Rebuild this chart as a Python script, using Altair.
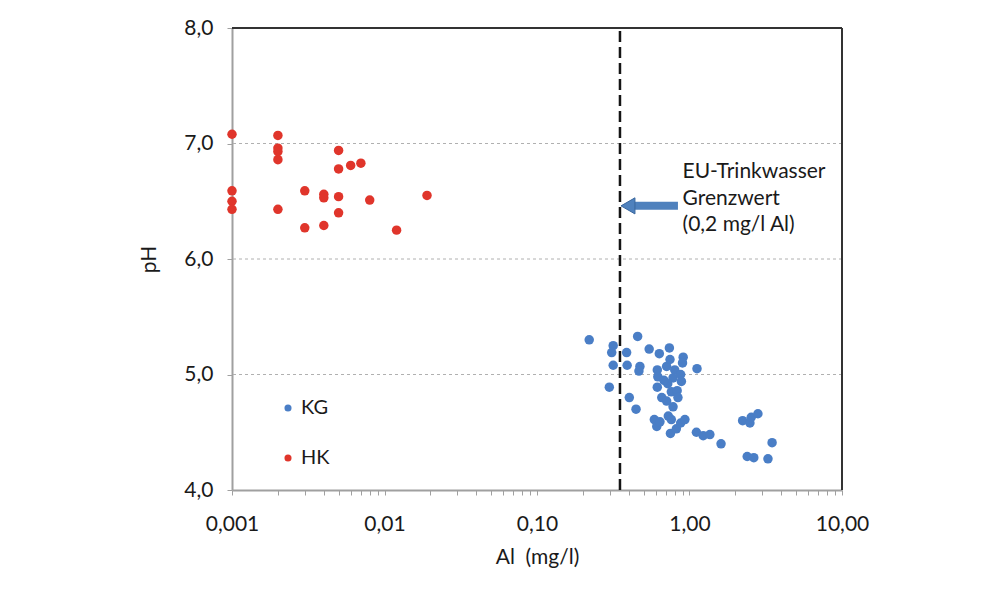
import altair as alt
import pandas as pd

# HK series (Al mg/l, pH)
hk_al = [0.001, 0.002, 0.002, 0.002, 0.002, 0.005, 0.005, 0.006, 0.007,
         0.001, 0.001, 0.001, 0.002, 0.003, 0.004, 0.004, 0.005, 0.005,
         0.008, 0.019, 0.003, 0.004, 0.012]
hk_ph = [7.08, 7.07, 6.96, 6.93, 6.86, 6.94, 6.78, 6.81, 6.83,
         6.59, 6.50, 6.43, 6.43, 6.59, 6.56, 6.53, 6.54, 6.40,
         6.51, 6.55, 6.27, 6.29, 6.25]

# KG series (Al mg/l, pH)
kg_al = [0.22, 0.457, 0.316, 0.309, 0.387, 0.544, 0.634, 0.738, 0.909, 0.90,
         0.316, 0.39, 0.473, 0.466, 1.12, 0.298, 0.403, 0.446, 0.615, 0.62,
         0.615, 0.708, 0.745, 0.80, 0.78, 0.875, 0.885, 0.76, 0.83, 0.658,
         0.708, 0.78, 0.588, 0.61, 0.64, 0.726, 0.76, 0.75, 0.82, 0.875,
         0.933, 1.11, 1.23, 1.36, 1.61, 2.23, 2.49, 2.54, 2.81, 3.48,
         2.39, 2.64, 3.27, 0.72, 0.68, 0.84]
kg_ph = [5.30, 5.33, 5.25, 5.19, 5.19, 5.22, 5.18, 5.23, 5.15, 5.10,
         5.08, 5.08, 5.07, 5.03, 5.05, 4.89, 4.80, 4.70, 5.04, 4.98,
         4.89, 5.07, 5.13, 5.04, 4.97, 5.00, 4.94, 4.85, 4.86, 4.80,
         4.77, 4.72, 4.61, 4.55, 4.59, 4.64, 4.61, 4.49, 4.53, 4.58,
         4.61, 4.50, 4.47, 4.48, 4.40, 4.60, 4.58, 4.63, 4.66, 4.41,
         4.29, 4.28, 4.27, 4.92, 4.95, 4.80]

groups = ["KG", "HK"]
colors = ["#4A7EC6", "#E0352B"]

limit_x = [0.35]
annotation_lines = ["EU-Trinkwasser", "Grenzwert", "(0,2 mg/l Al)"]
annotation_x = [0.9]
annotation_y = [6.75]
arrow_x = [0.42]
arrow_x2 = [0.84]
arrow_head_x = [0.395]
arrow_y = [6.46]

x_tick_values = []
for d in [0.001, 0.01, 0.1, 1.0]:
    for m in range(1, 10):
        x_tick_values.append(round(d * m, 6))
x_tick_values.append(10.0)
x_labels = {0.001: "0,001", 0.01: "0,01", 0.1: "0,10", 1.0: "1,00", 10.0: "10,00"}

label_expr = " : ".join(
    [f"datum.value == {k} ? '{v}'" for k, v in x_labels.items()]
) + " : ''"

df = pd.DataFrame({
    "al": kg_al + hk_al,
    "ph": kg_ph + hk_ph,
    "group": ["KG"] * len(kg_al) + ["HK"] * len(hk_al),
})

FONT = "Lato"
TXT = "#1a1a1a"

xscale = alt.Scale(type="log", domain=[0.001, 10], nice=False)
yscale = alt.Scale(domain=[4, 8], nice=False, zero=False)

# dashed grid lines (5, 6, 7) and solid frame (top, right)
grid_df = pd.DataFrame({"y": [5, 6, 7]})
grid = alt.Chart(grid_df).mark_rule(
    color="#b0b0b0", strokeWidth=1, strokeDash=[3, 3]
).encode(y=alt.Y("y:Q", scale=yscale))

frame_top = alt.Chart(pd.DataFrame({"y": [8]})).mark_rule(
    color="#333333", strokeWidth=2
).encode(y=alt.Y("y:Q", scale=yscale))
frame_right = alt.Chart(pd.DataFrame({"x": [10.0]})).mark_rule(
    color="#333333", strokeWidth=2
).encode(x=alt.X("x:Q", scale=xscale))

points = alt.Chart(df).mark_point(filled=True, size=90, opacity=1).encode(
    x=alt.X("al:Q", scale=xscale, title="Al\u00a0\u00a0(mg/l)",
            axis=alt.Axis(values=x_tick_values, labelExpr=label_expr,
                          grid=False, tickSize=5, labelPadding=18,
                          titlePadding=12, labelFlush=False, labelOverlap=False)),
    y=alt.Y("ph:Q", scale=yscale, title="pH",
            axis=alt.Axis(values=[4, 5, 6, 7, 8],
                          labelExpr="replace(format(datum.value, '.1f'), '.', ',')",
                          grid=False, tickSize=5, labelPadding=14,
                          titlePadding=24)),
    color=alt.Color("group:N", scale=alt.Scale(domain=groups, range=colors),
                    legend=alt.Legend(title=None, orient="none", legendX=46,
                                      legendY=370, symbolSize=50,
                                      labelFontSize=20, labelFont=FONT,
                                      labelColor=TXT, rowPadding=30,
                                      labelOffset=3, symbolType="circle")),
)

limit_df = pd.DataFrame({"x": limit_x})
limit_rule = alt.Chart(limit_df).mark_rule(
    color="#151515", strokeWidth=2.5, strokeDash=[11, 5]
).encode(x=alt.X("x:Q", scale=xscale), y=alt.datum(4), y2=alt.datum(8))

arrow_df = pd.DataFrame({"x": arrow_x, "x2": arrow_x2, "y": arrow_y,
                         "hx": arrow_head_x})
arrow_shaft = alt.Chart(arrow_df).mark_rule(
    color="#4F81BD", strokeWidth=8
).encode(x=alt.X("x:Q", scale=xscale), x2="x2:Q", y=alt.Y("y:Q", scale=yscale))
arrow_head = alt.Chart(arrow_df).mark_point(
    shape="triangle-left", filled=True, size=260, color="#4F81BD",
    stroke="#3A679E", strokeWidth=1, opacity=1
).encode(x=alt.X("hx:Q", scale=xscale), y=alt.Y("y:Q", scale=yscale))

ann_df = pd.DataFrame({"x": annotation_x, "y": annotation_y,
                       "t": ["\n".join(annotation_lines)]})
annotation = alt.Chart(ann_df).mark_text(
    align="left", baseline="middle", fontSize=21, font=FONT, color=TXT,
    lineBreak="\n", lineHeight=26.5
).encode(x=alt.X("x:Q", scale=xscale), y=alt.Y("y:Q", scale=yscale), text="t:N")

chart = alt.layer(
    grid, frame_top, frame_right, limit_rule, points,
    arrow_shaft, arrow_head, annotation
).properties(
    width=610, height=462,
    background="white",
    autosize=alt.AutoSizeParams(type="none"),
    padding={"left": 224, "top": 20, "right": 138, "bottom": 92},
).configure_view(
    stroke=None
).configure_axis(
    labelFont=FONT, titleFont=FONT, labelFontSize=21, titleFontSize=21,
    labelColor=TXT, titleColor=TXT, titleFontWeight="normal",
    domainColor="#a0a0a0", domainWidth=2, tickColor="#a0a0a0",
)

chart.save("out.html", embed_options={"renderer": "svg", "actions": False})
